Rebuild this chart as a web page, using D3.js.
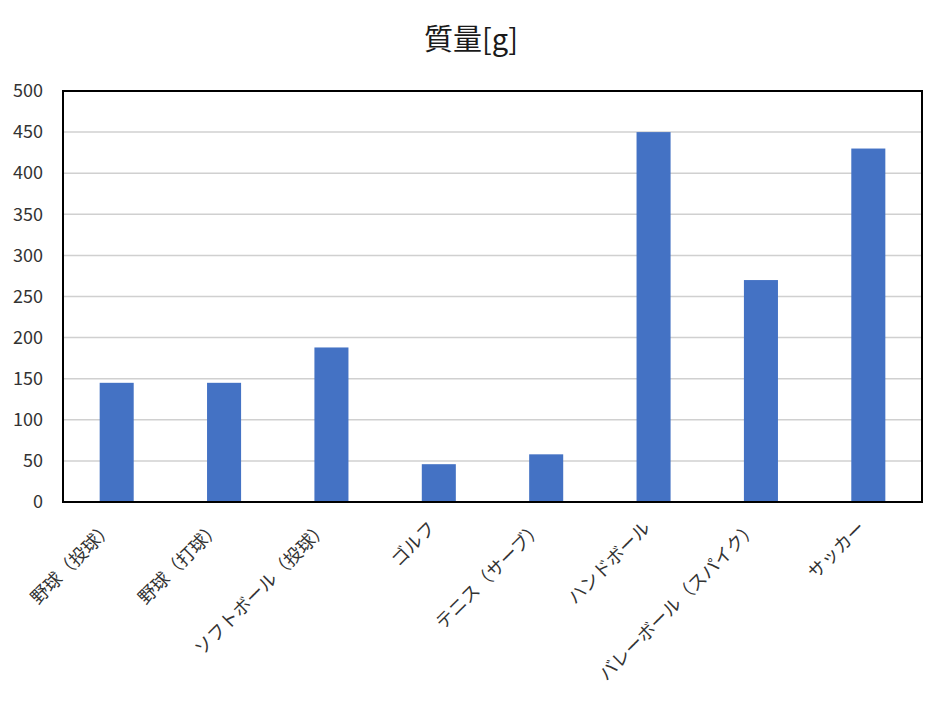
<!DOCTYPE html>
<html><head><meta charset="utf-8">
<script src="https://cdn.jsdelivr.net/npm/d3@7"></script>
<style>
body{margin:0;background:#fff;}
text{font-family:"Noto Sans CJK JP","Noto Sans",sans-serif;}
</style></head>
<body><svg id="c" width="944" height="709"></svg>
<script>
const categories = ["野球（投球）","野球（打球）","ソフトボール（投球）","ゴルフ","テニス（サーブ）","ハンドボール","バレーボール（スパイク）","サッカー"];
const values = [145,145,188,46,58,450,270,430];
const yTicks = [0,50,100,150,200,250,300,350,400,450,500];
const title = "質量[g]";

const svg = d3.select("#c");
const m = {l:63, r:922, t:91, b:502};
const x = d3.scaleBand().domain(categories).range([m.l, m.r]).paddingInner(0.683).paddingOuter(0.3415);
const y = d3.scaleLinear().domain([0,500]).range([m.b, m.t]);

svg.append("text").attr("x",471).attr("y",50).attr("text-anchor","middle")
  .attr("font-size",29).attr("fill","#1a1a1a").text(title);

// gridlines
svg.append("g").selectAll("line").data(yTicks.slice(1,-1)).join("line")
  .attr("x1",m.l).attr("x2",m.r).attr("y1",d=>y(d)).attr("y2",d=>y(d))
  .attr("stroke","#d0d0d0").attr("stroke-width",1.5);

// bars
svg.append("g").selectAll("rect").data(values).join("rect")
  .attr("x",(d,i)=>x(categories[i])).attr("width",x.bandwidth())
  .attr("y",d=>y(d)).attr("height",d=>y(0)-y(d)).attr("fill","#4472C4");

// frame
svg.append("rect").attr("x",m.l).attr("y",m.t).attr("width",m.r-m.l).attr("height",m.b-m.t)
  .attr("fill","none").attr("stroke","#000").attr("stroke-width",2);

// y axis
const ya = d3.axisLeft(y).tickValues(yTicks).tickSize(0).tickPadding(20);
const yg = svg.append("g").attr("transform",`translate(${m.l},0)`).call(ya);
yg.select(".domain").remove();
yg.selectAll("text").attr("font-size",18).attr("fill","#333").attr("font-family","\"Noto Sans CJK JP\",sans-serif");

// x axis labels
const xa = d3.axisBottom(x).tickSize(0).tickPadding(0);
const xg = svg.append("g").attr("transform",`translate(0,${m.b})`).call(xa);
xg.select(".domain").remove();
xg.selectAll("text").attr("font-size",18).attr("fill","#333")
  .attr("font-family","\"Noto Sans CJK JP\",sans-serif")
  .attr("text-anchor","end").attr("dy",null).attr("y",0)
  .attr("transform","translate(-2,27) rotate(-45)");
</script></body></html>
